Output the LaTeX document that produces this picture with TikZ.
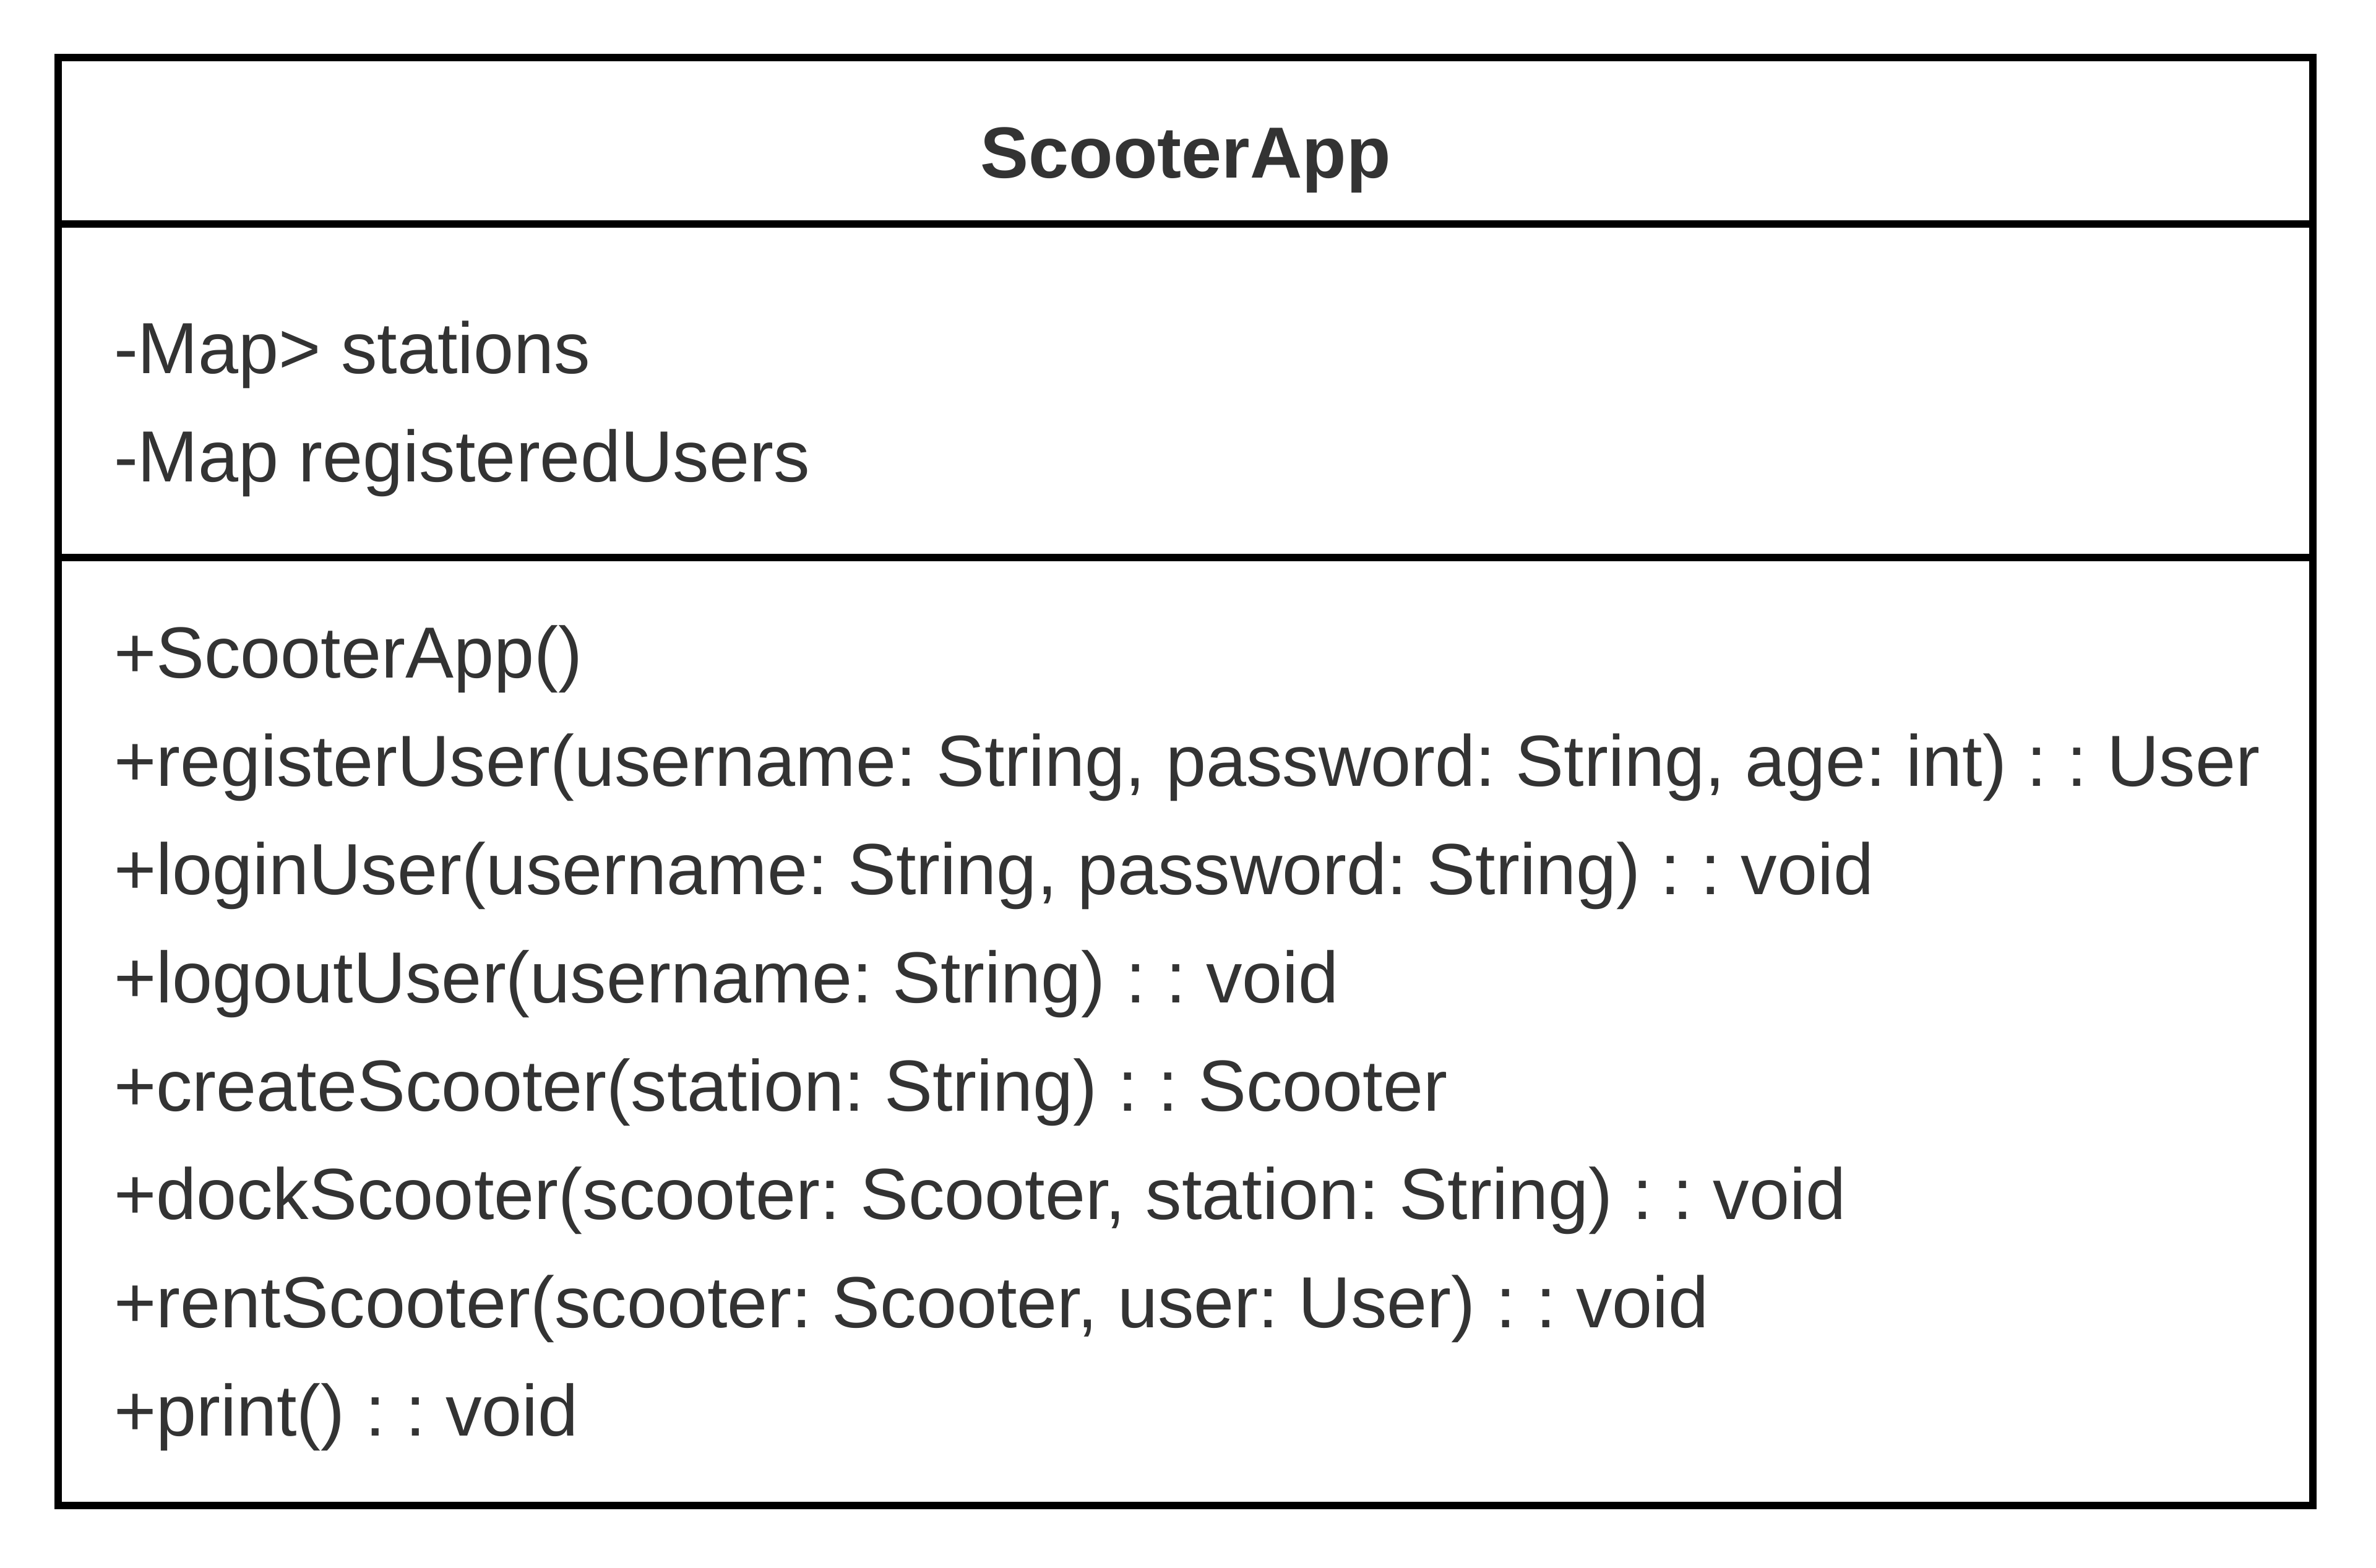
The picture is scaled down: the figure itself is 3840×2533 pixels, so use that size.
\documentclass[tikz,border=0pt]{standalone}
\usepackage{fontspec}
\setmainfont{Liberation Sans}
\frenchspacing
\definecolor{txtgray}{HTML}{333333}
\tikzset{
  member/.style={anchor=base west, inner sep=0pt, text=txtgray, font=\fontsize{11.7}{14}\selectfont},
  classname/.style={anchor=base, inner sep=0pt, text=txtgray, font=\fontsize{11.7}{14}\selectfont\bfseries},
  umlline/.style={line width=1.2pt, draw=black}
}
\begin{document}
\begin{tikzpicture}[x=0.1pt,y=-0.1pt]
      \useasboundingbox (0,0) rectangle (3840,2533);

      % BOX
      \coordinate (tl) at (93.6,93);
      \coordinate (br) at (3738,2433);
      \coordinate (d1l) at (93.6,362);
      \coordinate (d1r) at (3738,362);
      \coordinate (d2l) at (93.6,901);
      \coordinate (d2r) at (3738,901);

      \draw[umlline] (tl) rectangle (br);
      \draw[umlline] (d1l) -- (d1r);
      \draw[umlline] (d2l) -- (d2r);

      % NAME
      \node[classname] (name) at (1916,287) {ScooterApp};

      % ATTRIBUTES
      \node[member] (a1) at (182,603) {-Map> stations};
      \node[member] (a2) at (182,778) {-Map registeredUsers};

      % METHODS
      \node[member] (m1) at (182,1095) {+ScooterApp()};
      \node[member] (m2) at (182,1270) {+registerUser(username: String, password: String, age: int) : : User};
      \node[member] (m3) at (182,1445) {+loginUser(username: String, password: String) : : void};
      \node[member] (m4) at (182,1620) {+logoutUser(username: String) : : void};
      \node[member] (m5) at (182,1795) {+createScooter(station: String) : : Scooter};
      \node[member] (m6) at (182,1970) {+dockScooter(scooter: Scooter, station: String) : : void};
      \node[member] (m7) at (182,2145) {+rentScooter(scooter: Scooter, user: User) : : void};
      \node[member] (m8) at (182,2320) {+print() : : void};

\end{tikzpicture}
\end{document}
